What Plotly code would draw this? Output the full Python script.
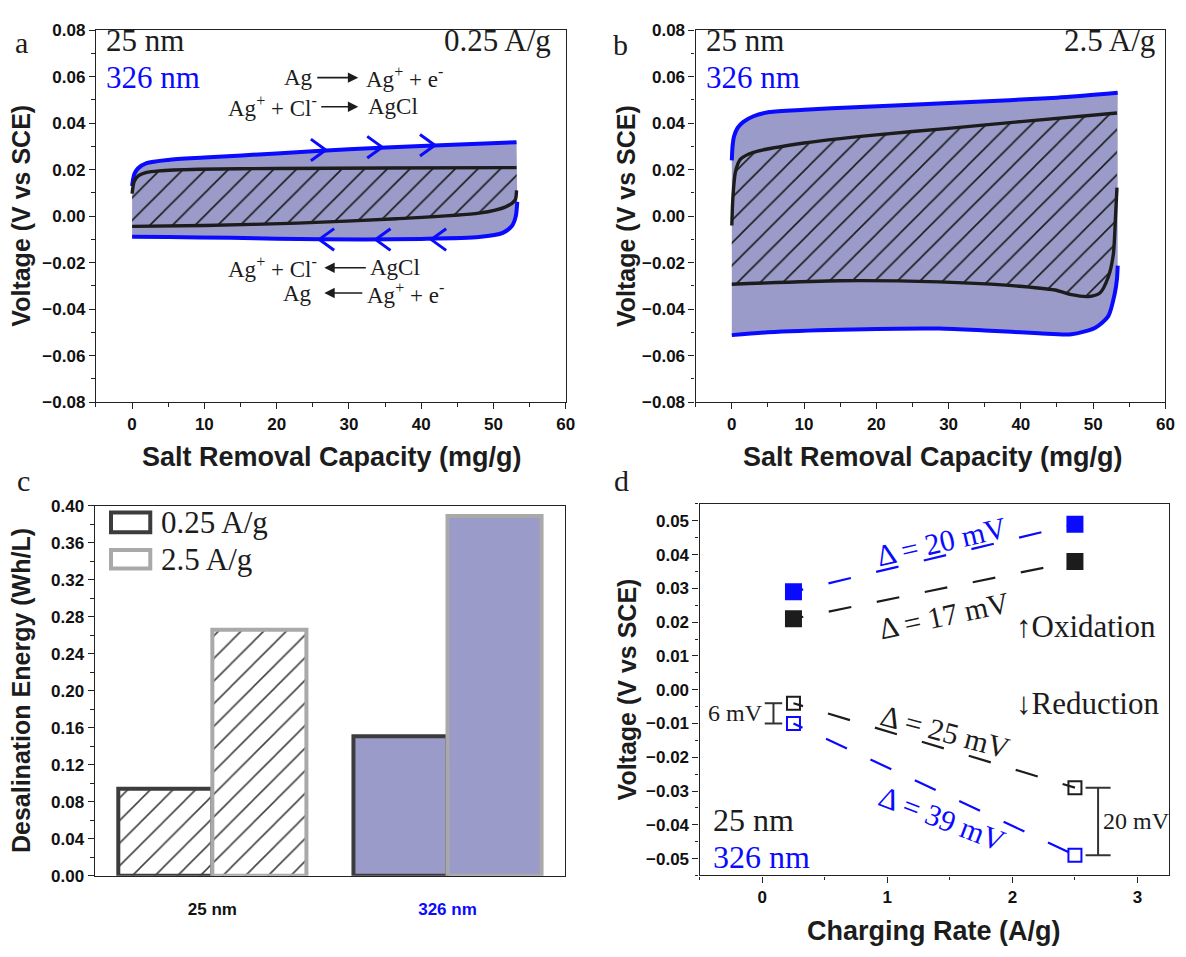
import plotly.graph_objects as go

W, H = 1186, 957

BLUE = "#0a0aff"
FILL = "#9a9bc9"
INK = "#1c1c1c"
DARK_EDGE = "#3c3c3c"
LIGHT_EDGE = "#a9a9a9"
SERIF = "Liberation Serif"
SANS = "Liberation Sans"

# ---------------- (a) 0.25 A/g voltage profiles ----------------
# x: salt removal capacity (mg/g), v: voltage (V vs SCE)
a326_ox_x = [0, 0.3, 0.8, 2, 5, 10, 20, 30, 40, 53.2]
a326_ox_v = [0.013, 0.018, 0.0205, 0.0228, 0.0242, 0.0252, 0.0270, 0.0288, 0.0302, 0.0318]
a326_red_x = [53.3, 53.1, 52.6, 51.3, 48, 40, 32, 20, 13.7, 5, 0]
a326_red_v = [0.0062, 0.0, -0.004, -0.0072, -0.009, -0.0098, -0.0100, -0.0097, -0.0093, -0.0090, -0.0089]
a25_ox_x = [0, 0.3, 0.9, 2, 3.7, 9.2, 20, 35, 53.2]
a25_ox_v = [0.0097, 0.015, 0.0174, 0.0188, 0.0195, 0.0202, 0.0205, 0.0207, 0.0209]
a25_red_x = [53.2, 53.0, 51.7, 48, 36.6, 22.9, 10, 0]
a25_red_v = [0.0111, 0.0069, 0.004, 0.0013, -0.0011, -0.003, -0.004, -0.0044]

# ---------------- (b) 2.5 A/g voltage profiles ----------------
b326_ox_x = [0, 0.1, 0.3, 0.8, 1.6, 3, 5.2, 10, 17, 32.3, 45, 53.4]
b326_ox_v = [0.024, 0.030, 0.0343, 0.038, 0.0406, 0.043, 0.0448, 0.0458, 0.0469, 0.049, 0.051, 0.0531]
b326_red_x = [53.4, 53.3, 53.0, 52.1, 50.3, 47, 42.5, 35, 28.7, 15, 5, 0]
b326_red_v = [-0.0213, -0.027, -0.0332, -0.043, -0.048, -0.0508, -0.0504, -0.0492, -0.0484, -0.0489, -0.0500, -0.0512]
b25_ox_x = [0, 0.15, 0.5, 1.2, 3, 10, 20, 30, 40, 53.3]
b25_ox_v = [-0.004, 0.008, 0.019, 0.0245, 0.0275, 0.0315, 0.035, 0.0378, 0.0407, 0.0444]
b25_red_x = [53.3, 53.1, 52.8, 52.1, 50.9, 49.3, 47, 44.7, 37.9, 28.7, 15, 0]
b25_red_v = [0.0123, 0.000, -0.0163, -0.0262, -0.0332, -0.0346, -0.0338, -0.0318, -0.0297, -0.0283, -0.0278, -0.0293]

# sweep-direction chevrons on the 326 nm loop of panel (a): (capacity, voltage) of each tip
a_chev_ox_x = [26.8, 34.6, 41.9]
a_chev_ox_v = [0.0285, 0.0297, 0.0305]
a_chev_red_x = [25.9, 33.7, 41.4]
a_chev_red_v = [-0.0100, -0.0101, -0.0101]

# ---------------- (c) desalination energy (Wh/L) ----------------
c_films = ["25 nm", "326 nm"]
c_low_rate = [0.094, 0.151]    # 0.25 A/g
c_high_rate = [0.266, 0.389]   # 2.5 A/g

# ---------------- (d) mean voltages vs charging rate ----------------
d_rate = [0.25, 2.5]
d_ox_326 = [0.029, 0.049]
d_ox_25 = [0.021, 0.038]
d_red_25 = [-0.004, -0.029]
d_red_326 = [-0.010, -0.049]


def px(x):
    return x / W


def py(y):
    return 1 - y / H


fig = go.Figure()

spline = dict(shape="spline", smoothing=0.7)


def add_loop(xa, ya, ox_x, ox_v, red_x, red_v, color, width, hatched):
    # oxidation branch, then the reduction branch filled back to it
    fig.add_trace(go.Scatter(
        x=ox_x, y=ox_v, xaxis=xa, yaxis=ya, mode="lines",
        line=dict(color=color, width=width, **spline)))
    fill_kw = dict(fill="tonexty")
    if hatched:
        fill_kw.update(fillcolor="rgba(0,0,0,0)",
                       fillpattern=dict(shape="/", fgcolor=INK, fgopacity=1,
                                        bgcolor="rgba(0,0,0,0)", size=16, solidity=0.1))
    else:
        fill_kw.update(fillcolor=FILL)
    fig.add_trace(go.Scatter(
        x=red_x[::-1], y=red_v[::-1], xaxis=xa, yaxis=ya, mode="lines",
        line=dict(color=color, width=width, **spline), **fill_kw))


add_loop("x", "y", a326_ox_x, a326_ox_v, a326_red_x, a326_red_v, BLUE, 4, False)
add_loop("x", "y", a25_ox_x, a25_ox_v, a25_red_x, a25_red_v, INK, 3.4, True)
add_loop("x2", "y2", b326_ox_x, b326_ox_v, b326_red_x, b326_red_v, BLUE, 4, False)
add_loop("x2", "y2", b25_ox_x, b25_ox_v, b25_red_x, b25_red_v, INK, 3.4, True)

# open chevrons (">" on charge, "<" on discharge); arm reach ~15 px wide, ~11 px up/down
CHEV_DX = 15 / 7.28      # capacity units per 15 px on panel (a)
CHEV_DV = 11 / 2371.0    # volts per 11 px on panel (a)
for tips_x, tips_v, sign in ((a_chev_ox_x, a_chev_ox_v, -1), (a_chev_red_x, a_chev_red_v, 1)):
    cx, cv = [], []
    for xv, vv in zip(tips_x, tips_v):
        cx += [xv + sign * CHEV_DX, xv, xv + sign * CHEV_DX, None]
        cv += [vv + CHEV_DV, vv, vv - CHEV_DV, None]
    fig.add_trace(go.Scatter(x=cx, y=cv, xaxis="x", yaxis="y", mode="lines",
                             line=dict(color=BLUE, width=3), hoverinfo="skip"))

# ---- (c) bars ----
for vals, edge in ((c_low_rate, DARK_EDGE), (c_high_rate, LIGHT_EDGE)):
    fig.add_trace(go.Bar(
        x=c_films, y=vals, xaxis="x3", yaxis="y3",
        marker=dict(color=["white", FILL],
                    line=dict(color=edge, width=4),
                    pattern=dict(shape=["/", ""], fgcolor=INK, fgopacity=1,
                                 fillmode="overlay", size=16, solidity=0.1))))

# ---- (d) rate dependence ----
DASH = "10px,26px" + ",23px,26px" * 7
for vals, color, symbol, msize in (
    (d_ox_326, BLUE, "square", 15),
    (d_ox_25, INK, "square", 15),
    (d_red_25, INK, "square-open", 13),
    (d_red_326, BLUE, "square-open", 13),
):
    fig.add_trace(go.Scatter(
        x=d_rate, y=vals, xaxis="x4", yaxis="y4", mode="lines+markers",
        line=dict(color=color, width=2.2, dash=DASH),
        marker=dict(symbol=symbol, size=msize, color=color,
                    line=dict(color=color, width=2))))

# ---------------- axes ----------------
tickfont = dict(family=SANS, size=17, color="#111", weight="bold")


def axis(**kw):
    base = dict(showline=True, linecolor="#222", linewidth=1.4, mirror=True,
                ticks="outside", ticklen=6, tickwidth=1.4, tickcolor="#222",
                showgrid=False, zeroline=False, tickfont=tickfont)
    base.update(kw)
    return base


def minor(step):
    return dict(dtick=step, ticks="outside", ticklen=3.5, tickwidth=1.2, tickcolor="#222")


dom_a_y = [py(401.0), py(21.7)]
fig.update_layout(
    xaxis=axis(domain=[px(96.7), px(570.0)], anchor="y", range=[-5, 60], dtick=10,
               tick0=0, minor=minor(5)),
    yaxis=axis(domain=dom_a_y, anchor="x", range=[-0.08, 0.08], dtick=0.02,
               tick0=0, tickformat=".2f", minor=minor(0.01)),
    xaxis2=axis(domain=[px(701.0), px(1174.3)], anchor="y2", range=[-5, 60], dtick=10,
                tick0=0, minor=minor(5)),
    yaxis2=axis(domain=dom_a_y, anchor="x2", range=[-0.08, 0.08], dtick=0.02,
                tick0=0, tickformat=".2f", minor=minor(0.01)),
    xaxis3=axis(domain=[px(95.5), px(569.4)], anchor="y3", type="category",
                range=[-0.5, 1.5], ticks="", tickvals=c_films,
                ticktext=[c_films[0], "<span style='color:#0a0aff'>%s</span>" % c_films[1]],
                ticklabelstandoff=18),
    yaxis3=axis(domain=[py(884.3), py(507.0)], anchor="x3", range=[0, 0.40], dtick=0.04,
                tick0=0, tickformat=".2f", minor=minor(0.02)),
    xaxis4=axis(domain=[px(705.0), px(1177.7)], anchor="y4", range=[-0.5, 3.25], dtick=1,
                tick0=0, minor=minor(0.5)),
    yaxis4=axis(domain=[py(884.0), py(505.0)], anchor="x4", range=[-0.055, 0.055], dtick=0.01,
                tick0=0, tickformat=".2f", minor=minor(0.005)),
    barmode="group", bargap=0.2, bargroupgap=0,
    width=W, height=H, margin=dict(l=0, r=0, t=0, b=0),
    paper_bgcolor="white", plot_bgcolor="white", showlegend=False,
    font=dict(family=SANS, color=INK),
)

ann = []


def text(s, x, y, xref="paper", yref="paper", size=30, color=INK, family=SERIF,
         xanchor="center", yanchor="middle", angle=0, bold=False):
    ann.append(dict(text=s, x=x, y=y, xref=xref, yref=yref, showarrow=False,
                    xanchor=xanchor, yanchor=yanchor, textangle=angle,
                    font=dict(family=family, size=size, color=color,
                              weight="bold" if bold else "normal")))


# panel letters
text("a", px(22), py(34), size=30)
text("b", px(625), py(36), size=30)
text("c", px(24), py(481), size=30)
text("d", px(626), py(481), size=30)

# axis titles
YT, XT = 25, 27
text("Voltage (V vs SCE)", px(21), py(211), size=YT, family=SANS, bold=True, angle=-90)
text("Voltage (V vs SCE)", px(631), py(211), size=YT, family=SANS, bold=True, angle=-90)
text("Desalination Energy (Wh/L)", px(21), py(695), size=YT, family=SANS, bold=True, angle=-90)
text("Voltage (V vs SCE)", px(632), py(694), size=YT, family=SANS, bold=True, angle=-90)
text("Salt Removal Capacity (mg/g)", px(335), py(457), size=XT, family=SANS, bold=True)
text("Salt Removal Capacity (mg/g)", px(940), py(457), size=XT, family=SANS, bold=True)
text("Charging Rate (A/g)", px(941), py(941), size=XT, family=SANS, bold=True)

# panel (a) / (b) labels
for xr, yr, rate, x_rate in (("x", "y", "0.25 A/g", 58.3), ("x2", "y2", "2.5 A/g", 58.8)):
    text("25 nm", -3.9, 0.0757, xr, yr, size=31, xanchor="left")
    text("326 nm", -3.9, 0.0597, xr, yr, size=31, color=BLUE, xanchor="left")
    text(rate, x_rate, 0.0757, xr, yr, size=31, xanchor="right")

# reaction schemes in panel (a): the reactant/product text carries the arrow
RS = 23


def reaction(tail_text, head_x, yv, tail_shift, other_text, other_x, other_anchor):
    ann.append(dict(text=tail_text, x=head_x, y=yv, xref="x", yref="y", showarrow=True,
                    ax=tail_shift, ay=0, arrowhead=2, arrowsize=1.3, arrowwidth=1.6,
                    arrowcolor=INK, standoff=0, startstandoff=3,
                    font=dict(family=SERIF, size=RS, color=INK)))
    text(other_text, other_x, yv, "x", "y", size=RS, xanchor=other_anchor)


# oxidation: Ag -> Ag+ + e-, Ag+ + Cl- -> AgCl (arrow heads at the right)
reaction("Ag", 31.3, 0.0596, -60, "Ag<sup>+</sup> + e<sup>-</sup>", 32.1, "left")
reaction("Ag<sup>+</sup> + Cl<sup>-</sup>", 31.3, 0.0471, -86, "AgCl", 32.3, "left")
# reduction: Ag+ + Cl- <- AgCl, Ag <- Ag+ + e- (arrow heads at the left)
reaction("AgCl", 26.6, -0.0222, 71, "Ag<sup>+</sup> + Cl<sup>-</sup>", 25.9, "right")
reaction("Ag<sup>+</sup> + e<sup>-</sup>", 26.6, -0.0331, 81, "Ag", 25.2, "right")

# ---- (c) legend ----
shapes = []
for (y0, y1), edge, label, ly in (((0.3716, 0.3929), DARK_EDGE, "0.25 A/g", 0.3822),
                                  ((0.3322, 0.3524), LIGHT_EDGE, "2.5 A/g", 0.3418)):
    shapes.append(dict(type="rect", xref="x3", yref="y3", x0=-0.431, x1=-0.264,
                       y0=y0, y1=y1, line=dict(color=edge, width=4), fillcolor="white"))
    text(label, -0.228, ly, "x3", "y3", size=31, xanchor="left")


# ---- (d) annotations ----
def mv(pair):
    return round(abs(pair[1] - pair[0]) * 1000)


text("Δ = %d mV" % mv(d_ox_326), 1.43, 0.0440, "x4", "y4", size=30, color=BLUE, angle=-13)
text("Δ = %d mV" % mv(d_ox_25), 1.45, 0.0219, "x4", "y4", size=30, angle=-12)
text("Δ = %d mV" % mv(d_red_25), 1.46, -0.0125, "x4", "y4", size=30, angle=15)
text("Δ = %d mV" % mv(d_red_326), 1.44, -0.0382, "x4", "y4", size=30, color=BLUE, angle=21)
text("↑Oxidation", 2.585, 0.0187, "x4", "y4", size=31)
text("↓Reduction", 2.6, -0.0041, "x4", "y4", size=31)
text("25 nm", -0.41, -0.0385, "x4", "y4", size=32, xanchor="left")
text("326 nm", -0.41, -0.0495, "x4", "y4", size=32, color=BLUE, xanchor="left")

# brackets showing the film-thickness gap in reduction voltage
for xc, half, i, lab_x, anchor in ((0.09, 0.07, 0, 0.025, "right"), (2.685, 0.1, 1, 2.71, "left")):
    top, bot = d_red_25[i], d_red_326[i]
    shapes.append(dict(type="line", xref="x4", yref="y4", x0=xc, x1=xc, y0=top, y1=bot,
                       line=dict(color="#333", width=2)))
    for yv in (top, bot):
        shapes.append(dict(type="line", xref="x4", yref="y4", x0=xc - half, x1=xc + half,
                           y0=yv, y1=yv, line=dict(color="#333", width=2)))
    text("%d mV" % mv((top, bot)), lab_x, (top + bot) / 2, "x4", "y4", size=24,
         xanchor=anchor)

fig.update_layout(annotations=ann, shapes=shapes)

fig.write_html("out.html")
